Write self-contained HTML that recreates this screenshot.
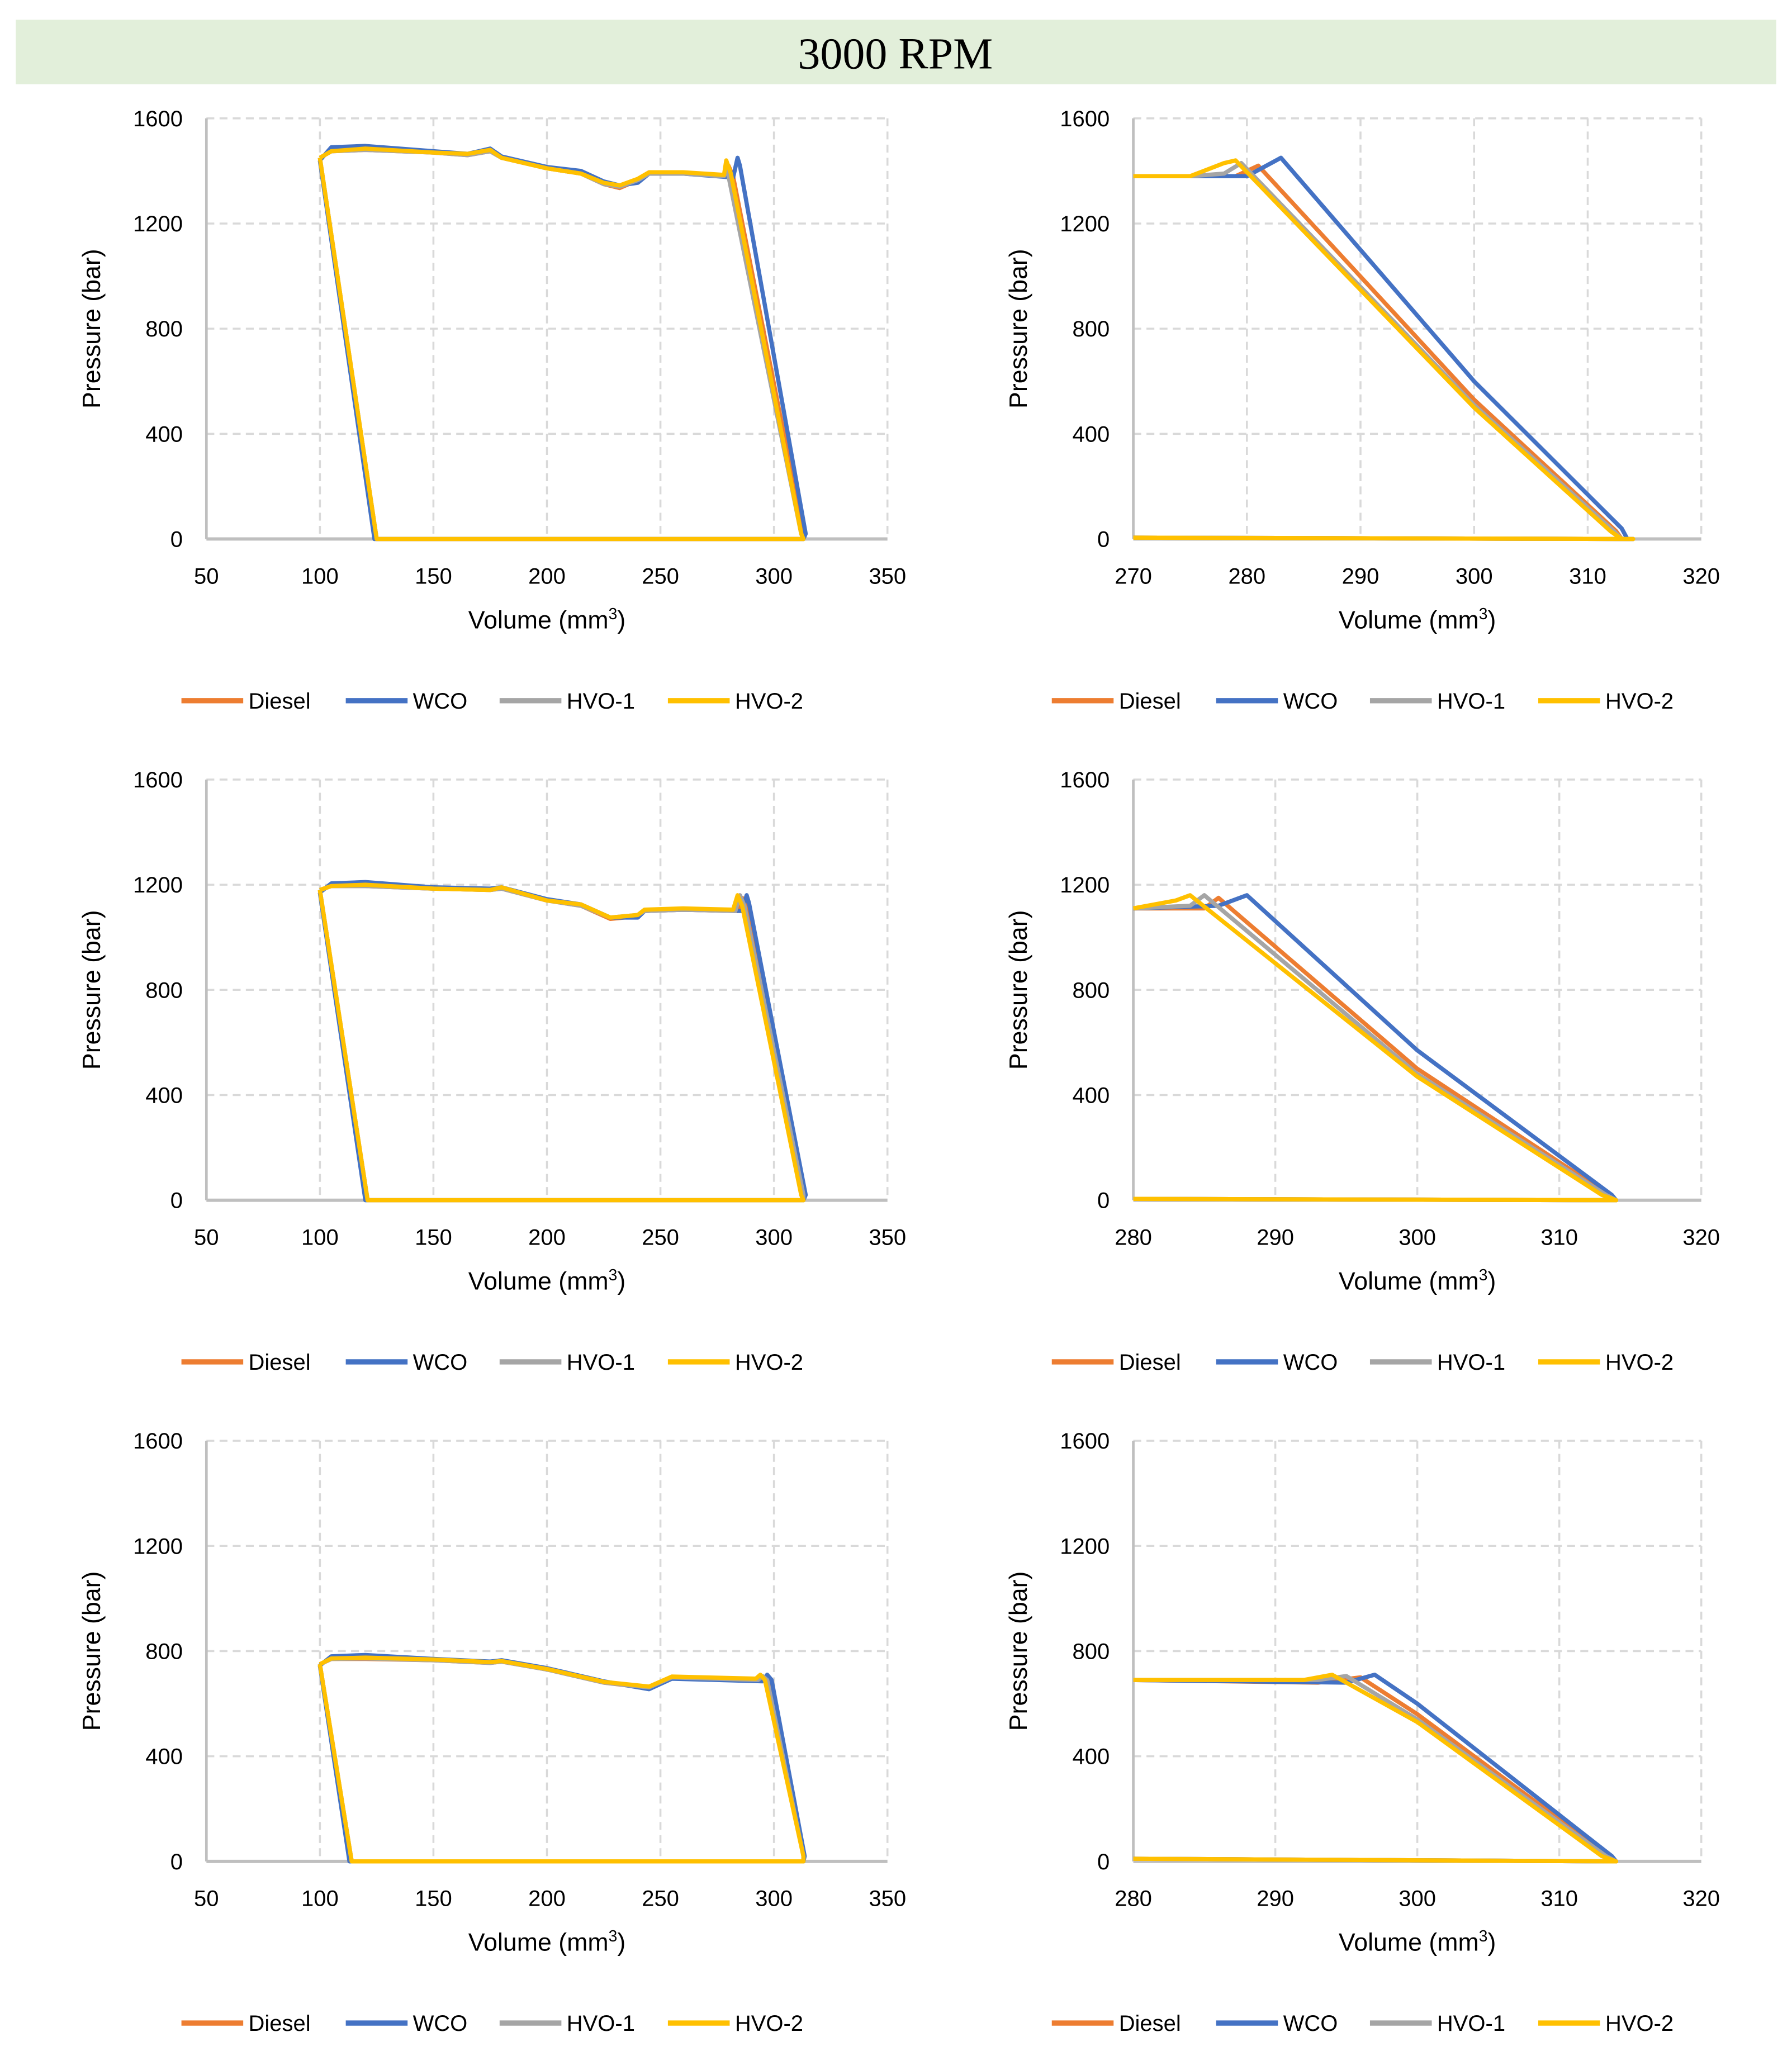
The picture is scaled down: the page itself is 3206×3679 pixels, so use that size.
<!DOCTYPE html>
<html><head><meta charset="utf-8"><style>
html,body{margin:0;padding:0;background:#fff;}
svg{display:block;}
text{font-family:"Liberation Sans",sans-serif;fill:#000;}
</style></head><body>
<svg id="root" width="3206" height="3679" viewBox="0 0 1363 1564" xmlns="http://www.w3.org/2000/svg">
<rect x="12" y="15" width="1339" height="49" fill="#e2efda"/>
<text x="681" y="52" text-anchor="middle" style="font-family:'Liberation Serif',serif;font-size:34px">3000 RPM</text>
</svg>
<script>
const seriesNames=["Diesel","WCO","HVO-1","HVO-2"];
const seriesColors=["#ed7d31","#4472c4","#a5a5a5","#ffc000"];
const yTicks=[0,400,800,1200,1600];
const xTicksLeft=[50,100,150,200,250,300,350];
const xTicksR1=[270,280,290,300,310,320];
const xTicksR23=[280,290,300,310,320];

// Chart L1
const l1DieselV=[100,105,120,150,165,175,180,200,215,225,232,240,245,260,278,280,282,313,313,125,100];
const l1DieselP=[1450,1475,1480,1470,1460,1475,1450,1410,1390,1350,1335,1365,1390,1390,1380,1420,1380,20,0,0,1450];
const l1WcoV=[100,105,120,150,165,175,180,200,215,225,232,240,245,260,282,284,285,314,313,124,100];
const l1WcoP=[1440,1490,1495,1475,1465,1485,1455,1415,1400,1360,1345,1355,1390,1390,1375,1450,1420,20,0,0,1440];
const l1Hvo1V=[100,105,120,150,165,175,180,200,215,225,232,240,245,260,278,279,280,312,313,125,100];
const l1Hvo1P=[1450,1475,1480,1470,1460,1475,1450,1410,1390,1350,1340,1365,1390,1390,1380,1430,1380,20,0,0,1450];
const l1Hvo2V=[100,105,120,150,165,175,180,200,215,225,232,240,245,260,278,279,281,312,313,125,100];
const l1Hvo2P=[1450,1475,1485,1470,1465,1480,1450,1410,1390,1355,1345,1370,1395,1395,1385,1440,1390,20,0,0,1450];

// Chart R1
const r1DieselV=[270,275,279,281,300,312.5,313,314,270];
const r1DieselP=[1380,1380,1380,1420,530,30,0,0,5];
const r1WcoV=[270,275,280,283,300,313,313.5,314,270];
const r1WcoP=[1380,1380,1380,1450,600,40,0,0,5];
const r1Hvo1V=[270,275,278,279.5,300,312.3,313,314,270];
const r1Hvo1P=[1380,1380,1390,1430,510,30,0,0,5];
const r1Hvo2V=[270,275,278,279,300,312,313,314,270];
const r1Hvo2P=[1380,1380,1430,1440,500,30,0,0,5];

// Chart L2
const l2DieselV=[100,105,120,150,175,180,200,215,228,240,243,260,284,286,288,313,313,121,100];
const l2DieselP=[1180,1195,1195,1185,1180,1185,1140,1120,1070,1080,1100,1105,1100,1150,1120,20,0,0,1180];
const l2WcoV=[100,105,120,150,175,180,200,215,228,240,243,260,286,288,289,314,313,120,100];
const l2WcoP=[1170,1205,1210,1190,1185,1190,1145,1125,1075,1075,1100,1105,1100,1160,1130,20,0,0,1170];
const l2Hvo1V=[100,105,120,150,175,180,200,215,228,240,243,260,283,285,287,313,313,121,100];
const l2Hvo1P=[1180,1195,1195,1185,1180,1185,1140,1120,1075,1085,1100,1105,1100,1160,1120,20,0,0,1180];
const l2Hvo2V=[100,105,120,150,175,180,200,215,228,240,243,260,282,284,286,312,313,121,100];
const l2Hvo2P=[1180,1195,1200,1185,1180,1190,1140,1125,1075,1085,1105,1110,1105,1160,1120,20,0,0,1180];

// Chart R2
const r2DieselV=[280,285,286,300,313.5,314,280];
const r2DieselP=[1110,1110,1150,500,20,0,5];
const r2WcoV=[280,286,288,300,313.7,314,280];
const r2WcoP=[1110,1120,1160,570,20,0,5];
const r2Hvo1V=[280,284,285,300,313.3,314,280];
const r2Hvo1P=[1110,1120,1160,480,20,0,5];
const r2Hvo2V=[280,283,284,300,313,314,280];
const r2Hvo2P=[1110,1140,1160,470,20,0,5];

// Chart L3
const l3DieselV=[100,105,120,150,175,180,200,225,245,255,293,296,298,313,313,114,100];
const l3DieselP=[750,770,770,765,755,760,730,680,660,700,690,700,690,20,0,0,750];
const l3WcoV=[100,105,120,150,175,180,200,225,245,255,295,297,299,313.5,313,113,100];
const l3WcoP=[745,780,785,770,760,765,735,685,655,695,685,710,690,20,0,0,745];
const l3Hvo1V=[100,105,120,150,175,180,200,225,245,255,293,295,297,313,313,114,100];
const l3Hvo1P=[750,770,772,765,755,760,730,680,662,700,690,705,690,20,0,0,750];
const l3Hvo2V=[100,105,120,150,175,180,200,225,245,255,292,294,296,313,313,114,100];
const l3Hvo2P=[750,772,775,768,758,762,732,683,665,703,695,710,690,20,0,0,750];

// Chart R3
const r3DieselV=[280,293,296,300,313.5,314,280];
const r3DieselP=[690,680,700,560,20,0,10];
const r3WcoV=[280,295,297,300,313.7,314,280];
const r3WcoP=[690,680,710,600,20,0,10];
const r3Hvo1V=[280,293,295,300,313.3,314,280];
const r3Hvo1P=[690,690,705,540,20,0,10];
const r3Hvo2V=[280,292,294,300,313,314,280];
const r3Hvo2P=[690,690,710,530,20,0,10];

const NS="http://www.w3.org/2000/svg";
const root=document.getElementById('root');
function mk(tag,attrs,parent){const e=document.createElementNS(NS,tag);for(const k in attrs)e.setAttribute(k,attrs[k]);(parent||root).appendChild(e);return e;}

function chart(name,x0,y0,w,h,xmin,xmax,xticks,series){
  const g=mk('g',{});
  
  
  const sx=v=>x0+(v-xmin)/(xmax-xmin)*w;
  const sy=p=>y0+h-p/1600*h;
  yTicks.forEach(t=>{
    if(t>0){const l=mk('line',{x1:x0,x2:x0+w,y1:sy(t),y2:sy(t),stroke:'#d9d9d9','stroke-width':1.5,'stroke-dasharray':'6,4'},g);
    
    }
    const tx=mk('text',{x:x0-18,y:sy(t)+6,'text-anchor':'end','font-size':17},g);
    tx.textContent=t;
    
    
  });
  xticks.forEach((t,i)=>{
    if(i>0){const l=mk('line',{x1:sx(t),x2:sx(t),y1:y0,y2:y0+h,stroke:'#d9d9d9','stroke-width':1.5,'stroke-dasharray':'6,4'},g);
    
    }
    const tx=mk('text',{x:sx(t),y:y0+h+34,'text-anchor':'middle','font-size':17},g);
    tx.textContent=t;
    
    
  });
  const ax=mk('line',{x1:x0,x2:x0,y1:y0,y2:y0+h,stroke:'#bfbfbf','stroke-width':2},g);
  
  
  const bx=mk('line',{x1:x0,x2:x0+w,y1:y0+h,y2:y0+h,stroke:'#bfbfbf','stroke-width':2.5},g);
  
  
  series.forEach((s,i)=>{
    const d=s[0].map((v,j)=>(j?'L':'M')+sx(v).toFixed(1)+','+sy(s[1][j]).toFixed(1)).join('');
    const p=mk('path',{d:d,fill:'none',stroke:seriesColors[i],'stroke-width':3.2,'stroke-linejoin':'round'},g);
    
    
  });
  const yt=mk('text',{x:0,y:0,'text-anchor':'middle','font-size':19,transform:`translate(${x0-81},${y0+h/2}) rotate(-90)`},g);
  yt.textContent='Pressure (bar)';
  
  
  const xt=mk('text',{x:x0+w/2,y:y0+h+68,'text-anchor':'middle','font-size':19},g);
  xt.innerHTML='Volume (mm<tspan dy="-7" font-size="12">3</tspan><tspan dy="7">)</tspan>';
  
  
  const lg=mk('g',{},g);
  
  
  const offs=[0,125,242,370];
  const lx=x0+w/2-278, ly=y0+h+123;
  seriesNames.forEach((n,i)=>{
    const l=mk('line',{x1:lx+offs[i],x2:lx+offs[i]+47,y1:ly,y2:ly,stroke:seriesColors[i],'stroke-width':4},lg);
    
    
    const t=mk('text',{x:lx+offs[i]+51,y:ly+6,'font-size':17},lg);
    t.textContent=n;
    
    
  });
}
const rows=[90,593,1096];
chart('chart-top-left',157,rows[0],518,320,50,350,xTicksLeft,[[l1DieselV,l1DieselP],[l1WcoV,l1WcoP],[l1Hvo1V,l1Hvo1P],[l1Hvo2V,l1Hvo2P]]);
chart('chart-top-right',862,rows[0],432,320,270,320,xTicksR1,[[r1DieselV,r1DieselP],[r1WcoV,r1WcoP],[r1Hvo1V,r1Hvo1P],[r1Hvo2V,r1Hvo2P]]);
chart('chart-middle-left',157,rows[1],518,320,50,350,xTicksLeft,[[l2DieselV,l2DieselP],[l2WcoV,l2WcoP],[l2Hvo1V,l2Hvo1P],[l2Hvo2V,l2Hvo2P]]);
chart('chart-middle-right',862,rows[1],432,320,280,320,xTicksR23,[[r2DieselV,r2DieselP],[r2WcoV,r2WcoP],[r2Hvo1V,r2Hvo1P],[r2Hvo2V,r2Hvo2P]]);
chart('chart-bottom-left',157,rows[2],518,320,50,350,xTicksLeft,[[l3DieselV,l3DieselP],[l3WcoV,l3WcoP],[l3Hvo1V,l3Hvo1P],[l3Hvo2V,l3Hvo2P]]);
chart('chart-bottom-right',862,rows[2],432,320,280,320,xTicksR23,[[r3DieselV,r3DieselP],[r3WcoV,r3WcoP],[r3Hvo1V,r3Hvo1P],[r3Hvo2V,r3Hvo2P]]);
</script>
</body></html>
